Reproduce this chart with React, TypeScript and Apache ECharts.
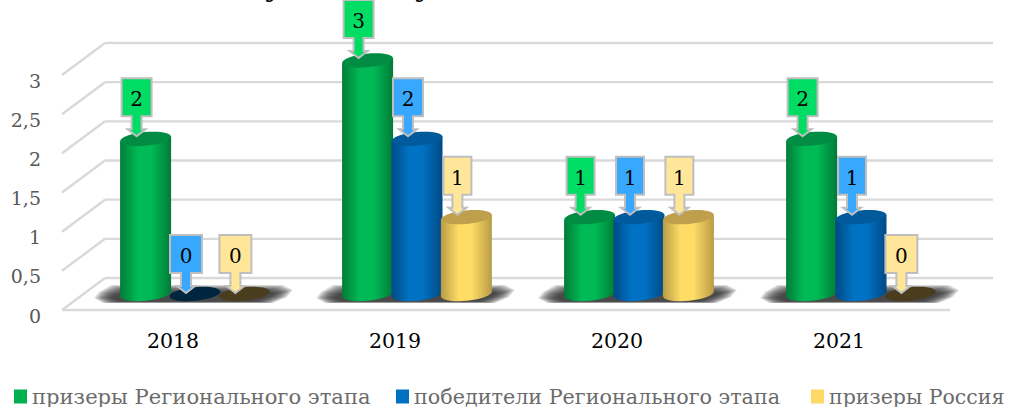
import React, { useEffect, useRef } from "react";
import * as echarts from "echarts";

const categories = ["2018", "2019", "2020", "2021"];
const seriesNames = ["призеры Регионального этапа", "победители Регионального этапа", "призеры Россия"];
const prizersRegional = [2, 3, 1, 2];
const winnersRegional = [0, 2, 1, 1];
const prizersRussia = [0, 1, 1, 0];
const yTicks = [0, 0.5, 1, 1.5, 2, 2.5, 3];
const FONT = "'DejaVu Serif', serif";

const palette = [
  { edge: "#007c38", mid: "#00bb55", top: "#008c42", zero: "#003d1e", label: "#00dc64", key: "#00b050" },
  { edge: "#004a85", mid: "#0072c4", top: "#005a9c", zero: "#00263f", label: "#38a8ff", key: "#0070c0" },
  { edge: "#b89c45", mid: "#ffdc66", top: "#bf9f4c", zero: "#4a3d1e", label: "#ffe699", key: "#ffd966" },
];
const allValues = [prizersRegional, winnersRegional, prizersRussia];
const legendLefts = [14, 396, 811];
const legendFontSizes = [21.1, 20.7, 20.5];

const DEPTH_X = 43;
const DEPTH_Y = 32;
const BAR_W = 51;
const BAR_STEP = 49.4;

function cylinder(api: any, seriesIdx: number, catIdx: number) {
  const value = allValues[seriesIdx][catIdx];
  const base = api.coord([catIdx, 0]);
  const top = api.coord([catIdx, value]);
  const c = palette[seriesIdx];
  const cx = base[0] + 22 + (seriesIdx - 1) * BAR_STEP;
  const yBase = base[1] - 16;
  const yTop = top[1] - 14.5;
  const hw = BAR_W / 2;
  const tilt = 2.5;
  const ry = 6.8;
  const grad = new echarts.graphic.LinearGradient(0, 0, 1, 0, [
    { offset: 0, color: c.edge },
    { offset: 0.35, color: c.mid },
    { offset: 0.6, color: c.mid },
    { offset: 1, color: c.edge },
  ]);
  const ellipse = (y: number, fill: any) => ({
    type: "ellipse",
    shape: { cx: 0, cy: 0, rx: hw, ry },
    x: cx,
    y,
    rotation: (5.5 * Math.PI) / 180,
    style: { fill },
  });
  const children: any[] = [];
  if (value > 0) {
    children.push(ellipse(yBase, grad));
    children.push({
      type: "polygon",
      shape: {
        points: [
          [cx - hw, yTop + tilt],
          [cx + hw, yTop - tilt],
          [cx + hw, yBase - tilt],
          [cx - hw, yBase + tilt],
        ],
      },
      style: { fill: grad },
    });
    children.push(ellipse(yTop, c.top));
  } else {
    children.push(ellipse(yBase, c.zero));
  }
  return children;
}

function callout(api: any, seriesIdx: number, catIdx: number) {
  const value = allValues[seriesIdx][catIdx];
  const base = api.coord([catIdx, value]);
  const c = palette[seriesIdx];
  const tipX = base[0] + 22 + (seriesIdx - 1) * BAR_STEP - 9;
  const tipY = base[1] - 17;
  const boxW = value === 0 ? 32 : value === 1 ? 28 : 30;
  const boxH = 38;
  const arrow = 20;
  const left = tipX - boxW / 2;
  const right = tipX + boxW / 2;
  const boxBottom = tipY - arrow;
  const boxTop = boxBottom - boxH;
  return [
    {
      type: "polygon",
      shape: {
        points: [
          [left, boxTop],
          [right, boxTop],
          [right, boxBottom],
          [tipX + 5, boxBottom],
          [tipX + 5, tipY - 7],
          [tipX + 9, tipY - 7],
          [tipX, tipY],
          [tipX - 9, tipY - 7],
          [tipX - 5, tipY - 7],
          [tipX - 5, boxBottom],
          [left, boxBottom],
        ],
      },
      style: { fill: c.label, stroke: "#bfbfbf", lineWidth: 2 },
    },
    {
      type: "text",
      style: {
        x: tipX,
        y: boxTop + boxH / 2 + 2,
        text: String(value),
        fill: "#000000",
        font: `20px ${FONT}`,
        align: "center",
        verticalAlign: "middle",
      },
    },
  ];
}

function floorShadow(base: number[]) {
  const cx = base[0] + 22;
  const top = base[1] - 25;
  const bottom = base[1] - 7;
  const layers: any[] = [];
  const steps = 14;
  for (let k = 0; k < steps; k++) {
    const ix = k * 1.4;
    const iy = k * 0.55;
    layers.push({
      type: "polygon",
      shape: {
        points: [
          [cx - 101 + ix, bottom - 5],
          [cx - 96 + ix, bottom - 11 + iy * 0.3],
          [cx - 84 + ix, top + iy],
          [cx + 88 - ix, top + iy],
          [cx + 98 - ix, top + 5 + iy * 0.5],
          [cx + 92 - ix, bottom - 6 - iy * 0.1],
          [cx + 78 - ix, bottom - iy * 0.2],
          [cx - 92 + ix, bottom - iy * 0.2],
        ],
      },
      style: { fill: "rgba(50,50,50,0.13)" },
    });
  }
  return layers;
}

export default function App() {
  const ref = useRef<HTMLDivElement>(null);
  useEffect(() => {
    const chart = echarts.init(ref.current!, undefined, { renderer: "svg" });
    chart.setOption({
      animation: false,
      backgroundColor: "#ffffff",
      graphic: [
        { type: "text", x: 264, y: -28, style: { text: "у", font: `bold 28px ${FONT}`, fill: "#000000" } },
        { type: "text", x: 414, y: -28, style: { text: "у", font: `bold 28px ${FONT}`, fill: "#000000" } },
      ],
      legend: seriesNames.map((name, i) => ({
        show: true,
        padding: 0,
        left: legendLefts[i],
        top: 386,
        itemWidth: 13,
        itemHeight: 14,
        icon: "rect",
        textStyle: { fontFamily: FONT, fontSize: legendFontSizes[i], color: "#6b6b6b" },
        data: [{ name, itemStyle: { color: palette[i].key } }],
      })),
      grid: { left: 62, right: 61, top: 75, height: 235 },
      xAxis: {
        type: "category",
        data: categories,
        axisLine: { show: false },
        axisTick: { show: false },
        axisLabel: { fontFamily: FONT, fontSize: 20.5, color: "#000000", margin: 20 },
      },
      yAxis: {
        type: "value",
        min: 0,
        max: 3,
        interval: 0.5,
        splitLine: { show: false },
        axisLine: { show: false },
        axisTick: { show: false },
        axisLabel: {
          margin: 21,
          formatter: (v: number) => `{t|${String(v).replace(".", ",")}}`,
          rich: {
            t: { fontFamily: FONT, fontSize: 19, color: "#595959", padding: [11, 0, 0, 0] },
          },
        },
      },
      series: [
        {
          type: "custom",
          silent: true,
          z: 1,
          data: yTicks.map((t) => [t]),
          encode: { x: -1, y: 0 },
          renderItem: (params: any, api: any) => {
            const t = yTicks[params.dataIndex];
            const p0 = api.coord([0, t]);
            const size = api.size([1, 0]);
            const x0 = p0[0] - size[0] / 2;
            const x1 = x0 + size[0] * categories.length;
            const line = { stroke: "#d9d9d9", lineWidth: 2.4 };
            const children: any[] = [
              { type: "line", shape: { x1: x0, y1: p0[1], x2: x0 + DEPTH_X, y2: p0[1] - DEPTH_Y }, style: line },
              { type: "line", shape: { x1: x0 + DEPTH_X, y1: p0[1] - DEPTH_Y, x2: x1 + DEPTH_X, y2: p0[1] - DEPTH_Y }, style: line },
            ];
            if (t === 0) {
              children.push({ type: "line", shape: { x1: x0, y1: p0[1], x2: x1, y2: p0[1] }, style: line });
            }
            return { type: "group", children };
          },
        },
        {
          type: "custom",
          silent: true,
          z: 2,
          data: categories.map((_, i) => [i]),
          encode: { x: 0, y: -1 },
          renderItem: (params: any, api: any) => ({
            type: "group",
            children: floorShadow(api.coord([params.dataIndex, 0])),
          }),
        },
        ...seriesNames.map((name, s) => ({
          name,
          type: "custom",
          silent: true,
          z: 3,
          itemStyle: { color: palette[s].key },
          data: allValues[s].map((v, i) => [i, v]),
          encode: { x: 0, y: 1 },
          renderItem: (params: any, api: any) => ({
            type: "group",
            children: cylinder(api, s, params.dataIndex),
          }),
        })),
        ...seriesNames.map((_, s) => ({
          type: "custom",
          silent: true,
          z: 4,
          data: allValues[s].map((v, i) => [i, v]),
          encode: { x: 0, y: 1 },
          renderItem: (params: any, api: any) => ({
            type: "group",
            children: callout(api, s, params.dataIndex),
          }),
        })),
      ],
    });
    return () => chart.dispose();
  }, []);
  return <div ref={ref} style={{ position: "fixed", left: 0, top: 0, width: 1011, height: 407 }} />;
}
